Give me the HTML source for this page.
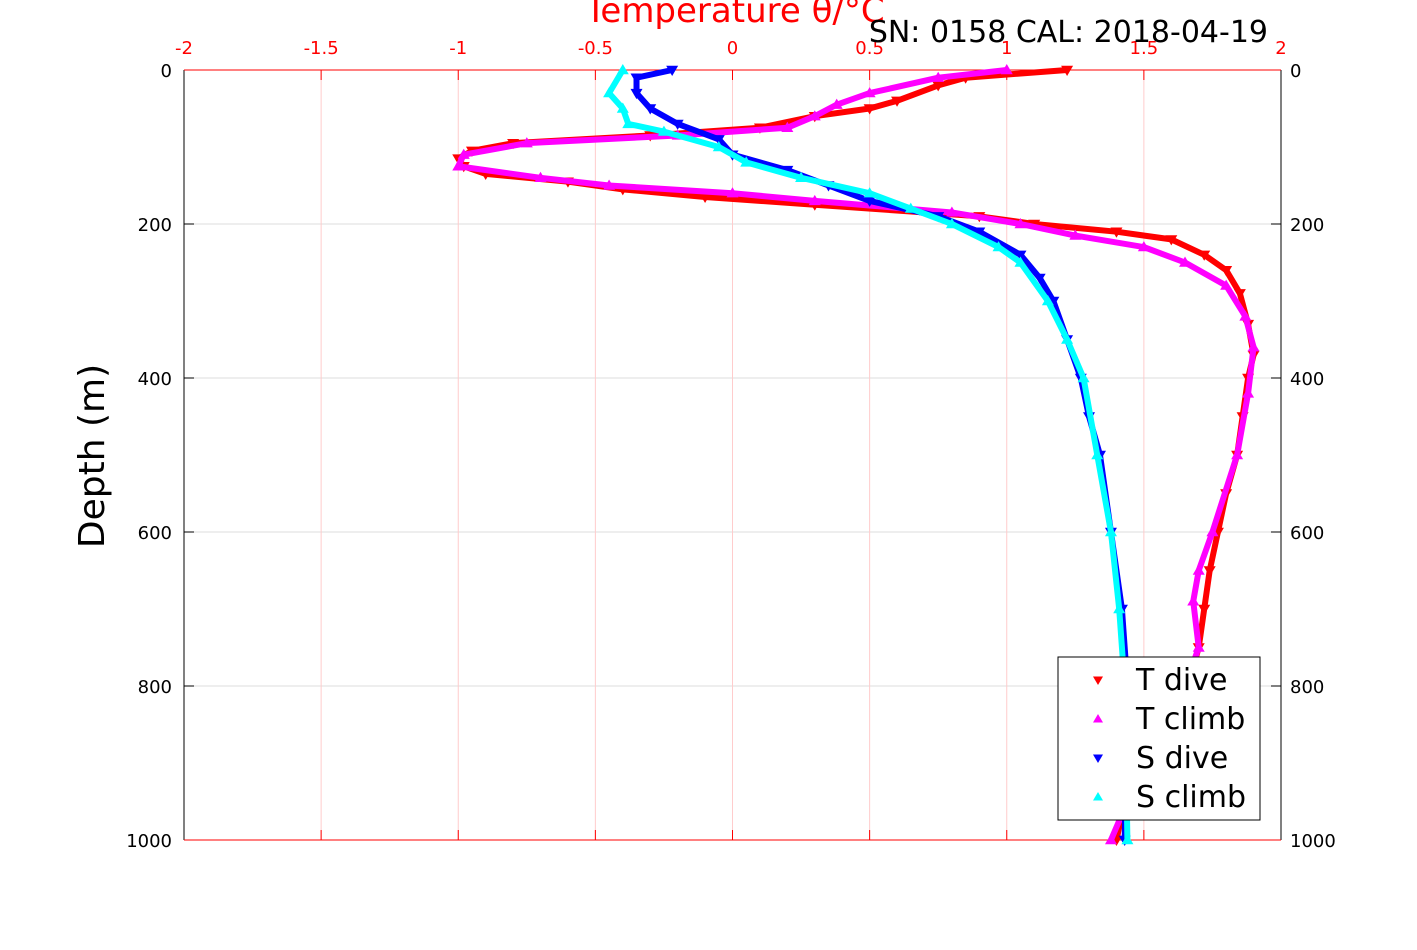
<!DOCTYPE html>
<html><head><meta charset="utf-8"><style>
body{margin:0;background:#fff;font-family:"Liberation Sans","DejaVu Sans",sans-serif}
svg text{font-family:"DejaVu Sans","Liberation Sans",sans-serif}
</style></head><body>
<svg id="chart" width="1417" height="945" xmlns="http://www.w3.org/2000/svg"></svg>
<script>
const tDiveDepth=[0,10,20,40,50,60,75,85,95,105,115,125,135,145,155,165,175,190,200,210,220,240,260,290,330,370,400,450,500,550,600,650,700,750,800,850,900,950,1000];
const tDiveVal=[1.22,0.85,0.75,0.6,0.5,0.3,0.1,-0.3,-0.8,-0.95,-1.0,-0.98,-0.9,-0.6,-0.4,-0.1,0.3,0.9,1.1,1.4,1.6,1.72,1.8,1.85,1.88,1.9,1.88,1.86,1.84,1.8,1.77,1.74,1.72,1.7,1.66,1.6,1.5,1.43,1.4];
const tClimbDepth=[0,10,30,45,60,75,85,95,110,125,140,150,160,170,185,200,215,230,250,280,320,360,420,500,600,650,690,750,800,900,1000];
const tClimbVal=[1.0,0.75,0.5,0.38,0.3,0.2,-0.2,-0.75,-0.98,-1.0,-0.7,-0.45,0.0,0.3,0.8,1.05,1.25,1.5,1.65,1.8,1.87,1.9,1.88,1.84,1.75,1.7,1.68,1.7,1.65,1.5,1.38];
const sDiveDepth=[0,10,30,50,70,90,110,130,150,170,190,210,240,270,300,350,400,450,500,600,700,800,1000];
const sDiveVal=[-0.22,-0.35,-0.35,-0.3,-0.2,-0.05,0.0,0.2,0.35,0.5,0.75,0.9,1.05,1.12,1.17,1.22,1.27,1.3,1.34,1.38,1.42,1.44,1.43];
const sClimbDepth=[0,30,50,70,80,100,120,140,160,180,200,230,250,300,350,400,500,600,700,800,1000];
const sClimbVal=[-0.4,-0.45,-0.4,-0.38,-0.25,-0.05,0.05,0.25,0.5,0.65,0.8,0.97,1.05,1.15,1.22,1.28,1.33,1.38,1.41,1.43,1.44];
const xTicks=[-2,-1.5,-1,-0.5,0,0.5,1,1.5,2];
const yTicks=[0,200,400,600,800,1000];

const NS="http://www.w3.org/2000/svg",svg=document.getElementById('chart');
const L=184,R=1281,T=70,B=840;
const xs=v=>L+(v+2)/4*(R-L), ys=d=>T+d/1000*(B-T);
function mk(tag,at,txt){const e=document.createElementNS(NS,tag);for(const k in at)e.setAttribute(k,at[k]);if(txt!=null)e.textContent=txt;svg.appendChild(e);return e;}
yTicks.forEach(d=>{const g=mk('line',{x1:L,x2:R,y1:ys(d),y2:ys(d),stroke:'#ddd','stroke-width':1});


const a=mk('text',{x:172,y:ys(d)+7,'font-size':18,'text-anchor':'end',fill:'#000'},d);


const b=mk('text',{x:1290,y:ys(d)+7,'font-size':18,fill:'#000'},d);


mk('line',{x1:L,x2:L+10,y1:ys(d),y2:ys(d),stroke:'#000'});mk('line',{x1:R,x2:R-10,y1:ys(d),y2:ys(d),stroke:'#000'});});
xTicks.forEach(v=>{const g=mk('line',{x1:xs(v),x2:xs(v),y1:T,y2:B,stroke:'#fcc','stroke-width':1});


const t=mk('text',{x:xs(v),y:54,'font-size':18,'text-anchor':'middle',fill:'#f00'},v);


mk('line',{x1:xs(v),x2:xs(v),y1:T,y2:T+10,stroke:'#f00'});mk('line',{x1:xs(v),x2:xs(v),y1:B,y2:B-10,stroke:'#f00'});});
mk('line',{x1:L,x2:L,y1:T,y2:B,stroke:'#000'});mk('line',{x1:R,x2:R,y1:T,y2:B,stroke:'#000'});
mk('line',{x1:L,x2:R,y1:T,y2:T,stroke:'#f00'});mk('line',{x1:L,x2:R,y1:B,y2:B,stroke:'#f00'});
function tri(x,y,down,c,s){const h=s;return down?`M${x-h},${y-h*0.7}L${x+h},${y-h*0.7}L${x},${y+h}Z`:`M${x-h},${y+h*0.7}L${x+h},${y+h*0.7}L${x},${y-h}Z`;}
function series(dep,val,c,down,name){
  const pts=dep.map((d,i)=>xs(val[i])+','+ys(d)).join(' ');
  const p=mk('polyline',{points:pts,fill:'none',stroke:c,'stroke-width':6,'stroke-linejoin':'round'});
  
  
  dep.forEach((d,i)=>{const m=mk('path',{d:tri(xs(val[i]),ys(d),down,c,6),fill:c});
  
  });
}
series(tDiveDepth,tDiveVal,'#f00',true,'t-dive');
series(tClimbDepth,tClimbVal,'#f0f',false,'t-climb');
series(sDiveDepth,sDiveVal,'#00f',true,'s-dive');
series(sClimbDepth,sClimbVal,'#0ff',false,'s-climb');
let e=mk('text',{x:735,y:22,'font-size':34,'text-anchor':'middle',fill:'#f00'},'Temperature θ/°C');


e=mk('text',{x:1268,y:42,'font-size':30,'text-anchor':'end',fill:'#000'},'SN: 0158  CAL: 2018-04-19');


e=mk('text',{x:0,y:0,'font-size':36,'text-anchor':'middle',fill:'#000',transform:'translate(104,456) rotate(-90)'},'Depth (m)');


e=mk('rect',{x:1058,y:657,width:202,height:163,fill:'#fff',stroke:'#000'});


[['T dive','#f00',true],['T climb','#f0f',false],['S dive','#00f',true],['S climb','#0ff',false]].forEach((l,i)=>{const y=680+i*39;
const m=mk('path',{d:tri(1098,y,l[2],l[1],5),fill:l[1]});


const t=mk('text',{x:1136,y:y+10,'font-size':30,fill:'#000'},l[0]);

});
</script>
</body></html>
